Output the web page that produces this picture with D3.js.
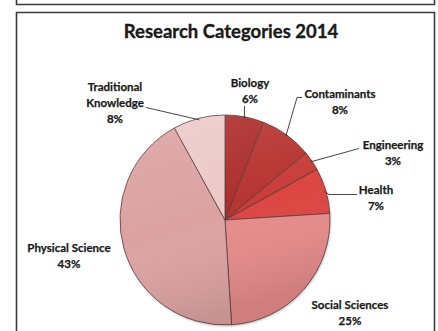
<!DOCTYPE html>
<html>
<head>
<meta charset="utf-8">
<script src="https://cdn.jsdelivr.net/npm/d3@7"></script>
<style>
  html, body { margin: 0; padding: 0; background: #fff; }
  svg { display: block; }
  text { font-family: Lato, "Open Sans", sans-serif; font-weight: bold; fill: #1a1a1a; stroke: #1a1a1a; stroke-width: 0.25px; }
</style>
</head>
<body>
<svg id="chart" width="438" height="331"></svg>
<script>
// Research categories and their shares (%)
const categories = ["Biology", "Contaminants", "Engineering", "Health", "Social Sciences", "Physical Science", "Traditional Knowledge"];
const values = [6, 8, 3, 7, 25, 43, 8];
const colors = ["#ad2e2d", "#b73532", "#c83d39", "#dc4642", "#e68b8b", "#dca2a2", "#ecc9c9"];
const labelLines = [["Biology"], ["Contaminants"], ["Engineering"], ["Health"], ["Social Sciences"], ["Physical Science"], ["Traditional", "Knowledge"]];
const title = "Research Categories 2014";

const svg = d3.select("#chart");

// frames
const frame = svg.append("g").attr("fill", "none").attr("stroke", "#3c3c3c").attr("stroke-width", 1.6);
frame.append("path").attr("d", "M16.5,-2 V4.5 H434.5 V-2");
frame.append("path").attr("d", "M16.5,340 V12.5 H434.5 V340");

svg.append("text").attr("x", 231).attr("y", 37.5).attr("text-anchor", "middle")
  .attr("font-size", 18.5).style("stroke-width", "0.35px").text(title);

const cx = 225, cy = 220, r = 105;
const data = categories.map((c, i) => ({ name: c, value: values[i], color: colors[i], lines: labelLines[i] }));
const pie = d3.pie().value(d => d.value).sort(null);
const arcs = pie(data);
const arc = d3.arc().innerRadius(0).outerRadius(r);

const defs = svg.append("defs");
const shade = defs.append("linearGradient").attr("id", "shade")
  .attr("x1", 0).attr("y1", 0).attr("x2", 0.3).attr("y2", 1);
shade.append("stop").attr("offset", "0%").attr("stop-color", "#fff").attr("stop-opacity", 0.12);
shade.append("stop").attr("offset", "55%").attr("stop-color", "#fff").attr("stop-opacity", 0);
shade.append("stop").attr("offset", "100%").attr("stop-color", "#000").attr("stop-opacity", 0.1);

const blur = defs.append("filter").attr("id", "soft").attr("x", "-10%").attr("y", "-10%").attr("width", "120%").attr("height", "120%");
blur.append("feGaussianBlur").attr("stdDeviation", 1.2);

const g = svg.append("g").attr("transform", `translate(${cx},${cy})`);
// faint shadow along the rim
g.append("circle").attr("r", r).attr("cx", 0.8).attr("cy", 1.5).attr("fill", "#888").attr("opacity", 0.5).attr("filter", "url(#soft)");

g.selectAll("path.slice").data(arcs).join("path").attr("class", "slice")
  .attr("d", arc).attr("fill", d => d.data.color)
  .attr("stroke", "#5b3a3a").attr("stroke-width", 0.8).attr("stroke-linejoin", "round");
g.append("circle").attr("r", r).attr("fill", "url(#shade)");

// label anchors (centre x, first baseline y)
const labelPos = {
  "Biology": [250, 87],
  "Contaminants": [340, 98],
  "Engineering": [393, 149],
  "Health": [376, 194],
  "Social Sciences": [350, 309],
  "Physical Science": [69, 252],
  "Traditional Knowledge": [115, 91]
};
const lh = 16;
const lab = svg.append("g").attr("font-size", 11.5).attr("text-anchor", "middle");
data.forEach(d => {
  const [x, y] = labelPos[d.name];
  const t = lab.append("text").attr("x", x).attr("y", y);
  d.lines.forEach((ln, i) => t.append("tspan").attr("x", x).attr("dy", i === 0 ? 0 : lh).text(ln));
  t.append("tspan").attr("x", x).attr("dy", lh).text(d.value + "%");
});

// leader lines from label to the slice rim
const rimPt = (a, k) => [cx + Math.sin(a) * r * k, cy - Math.cos(a) * r * k];
const mid = a => (a.startAngle + a.endAngle) / 2;
const leaders = {
  "Biology": [[244.5, 106]],
  "Contaminants": [[302, 97.5], [297, 97.5]],
  "Engineering": [[359, 148.5]],
  "Health": [[357, 194.5], [329, 194.5]],
  "Traditional Knowledge": [[146, 107.5]]
};
const line = d3.line();
arcs.forEach(a => {
  const pts = leaders[a.data.name];
  if (!pts) return;
  const end = rimPt(mid(a), 0.985);
  svg.append("path").attr("d", line(pts.concat([end])))
    .attr("fill", "none").attr("stroke", "#333").attr("stroke-width", 0.9);
});
</script>
</body>
</html>
